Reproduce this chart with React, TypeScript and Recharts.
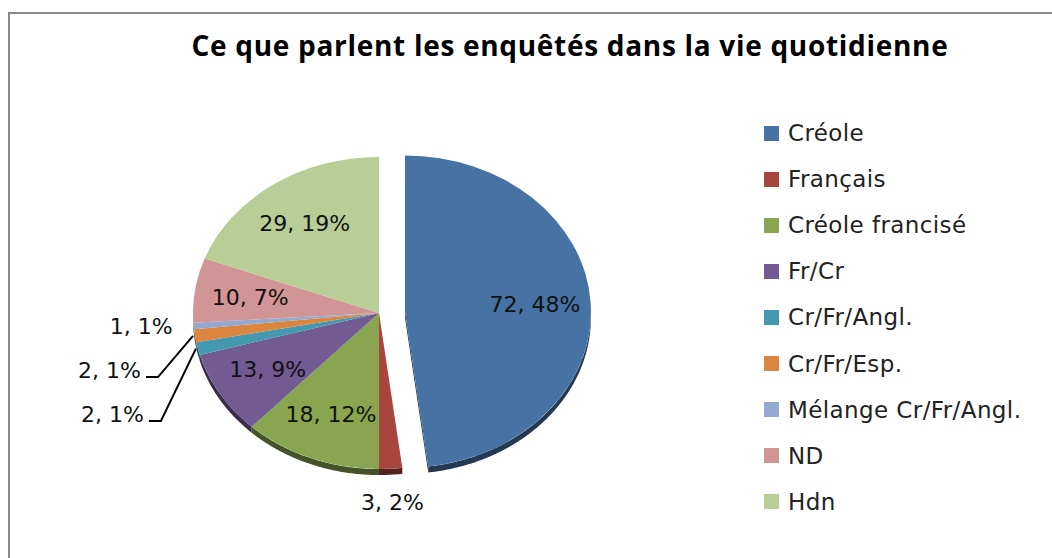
import React from 'react';
import { PieChart, Pie, Cell, Legend } from 'recharts';

// ---- data ----
const categories = [
  'Créole',
  'Français',
  'Créole francisé',
  'Fr/Cr',
  'Cr/Fr/Angl.',
  'Cr/Fr/Esp.',
  'Mélange Cr/Fr/Angl.',
  'ND',
  'Hdn',
];
const counts = [72, 3, 18, 13, 2, 2, 1, 10, 29];
const colors = ['#4672A4', '#A8453F', '#89A54F', '#725A92', '#4299B0', '#DC853E', '#94A9D0', '#D29595', '#B9CD97'];
const explodedCategory = 'Créole';
const title = 'Ce que parlent les enquêtés dans la vie quotidienne';

const data = categories.map((name, i) => ({ name, value: counts[i] }));

// ---- geometry / style ----
const W = 1052;
const H = 558;
const CX = 379;
const CY = 313;
const RX = 186;
const KY = 0.839;
const DEPTH = 6;
const EXPLODE = 26;
const RAD = Math.PI / 180;
const FONT = '"DejaVu Sans", sans-serif';

function darken(hex: string, f: number) {
  const n = parseInt(hex.slice(1), 16);
  const r = Math.round(((n >> 16) & 255) * f);
  const g = Math.round(((n >> 8) & 255) * f);
  const b = Math.round((n & 255) * f);
  return `rgb(${r},${g},${b})`;
}

function ept(cx: number, cy: number, a: number, r: number = RX): [number, number] {
  return [cx + r * Math.cos(a * RAD), cy - r * KY * Math.sin(a * RAD)];
}

function offsetFor(name: string, mid: number): [number, number] {
  if (name !== explodedCategory) return [0, 0];
  return [EXPLODE * Math.cos(mid * RAD), -EXPLODE * KY * Math.sin(mid * RAD)];
}

function arcSamples(cx: number, cy: number, a0: number, a1: number) {
  const n = Math.max(2, Math.ceil(Math.abs(a0 - a1) / 0.5));
  const out: { a: number; p: [number, number] }[] = [];
  for (let i = 0; i <= n; i++) {
    const a = a0 + ((a1 - a0) * i) / n;
    out.push({ a, p: ept(cx, cy, a) });
  }
  return out;
}

const SideShape = (props: any) => {
  const { cx, cy, startAngle, endAngle, fill, payload } = props;
  const mid = (startAngle + endAngle) / 2;
  const [ox, oy] = offsetFor(payload.name, mid);
  const x0 = cx + ox;
  const y0 = cy + oy;
  const side = darken(fill, 0.5);
  const samples = arcSamples(x0, y0, startAngle, endAngle);
  const groups: [number, number][][] = [];
  let cur: [number, number][] = [];
  samples.forEach((s) => {
    if (Math.sin(s.a * RAD) <= 0.0001) {
      cur.push(s.p);
    } else if (cur.length) {
      groups.push(cur);
      cur = [];
    }
  });
  if (cur.length) groups.push(cur);
  const polys = groups
    .filter((g) => g.length > 1)
    .map((g) => {
      const top = g.map((p) => `${p[0]},${p[1]}`);
      const bot = g
        .slice()
        .reverse()
        .map((p) => `${p[0]},${p[1] + DEPTH}`);
      return top.concat(bot).join(' ');
    });
  const faces: string[] = [];
  if (payload.name === explodedCategory) {
    [startAngle, endAngle].forEach((a) => {
      const p = ept(x0, y0, a);
      faces.push(`${x0},${y0} ${p[0]},${p[1]} ${p[0]},${p[1] + DEPTH} ${x0},${y0 + DEPTH}`);
    });
  }
  return (
    <g>
      {faces.map((f, i) => (
        <polygon key={'f' + i} points={f} fill={side} />
      ))}
      {polys.map((pp, i) => (
        <polygon key={i} points={pp} fill={side} />
      ))}
    </g>
  );
};

const TopShape = (props: any) => {
  const { cx, cy, startAngle, endAngle, fill, payload } = props;
  const mid = (startAngle + endAngle) / 2;
  const [ox, oy] = offsetFor(payload.name, mid);
  const x0 = cx + ox;
  const y0 = cy + oy;
  const p0 = ept(x0, y0, startAngle);
  const p1 = ept(x0, y0, endAngle);
  const large = Math.abs(startAngle - endAngle) > 180 ? 1 : 0;
  const sweep = startAngle > endAngle ? 1 : 0;
  const d = `M${x0},${y0} L${p0[0]},${p0[1]} A${RX},${RX * KY} 0 ${large} ${sweep} ${p1[0]},${p1[1]} Z`;
  return <path d={d} fill={fill} stroke="none" />;
};

// label layout derived from the data
const total = counts.reduce((s, v) => s + v, 0);
const mids: number[] = [];
{
  let a = 90;
  counts.forEach((v) => {
    const sw = (360 * v) / total;
    mids.push(a - sw / 2);
    a -= sw;
  });
}
const SMALL = 0.05;
type LL = { x: number; y: number; anchor: string; leader?: [number, number][] };
const layout: LL[] = [];
{
  const leftSmall: { i: number; ey: number; ex: number }[] = [];
  counts.forEach((v, i) => {
    const pct = v / total;
    const mid = mids[i];
    const [ox, oy] = offsetFor(categories[i], mid);
    if (pct >= SMALL) {
      const [x, y] = ept(CX + ox, CY + oy, mid, RX * 0.7);
      layout[i] = { x, y, anchor: 'middle' };
    } else if (Math.cos(mid * RAD) < -0.5) {
      const [ex, ey] = ept(CX, CY, mid);
      leftSmall.push({ i, ey, ex });
    } else {
      const [ex, ey] = ept(CX + ox, CY + oy, mid);
      const ux = Math.cos(mid * RAD);
      const uy = -Math.sin(mid * RAD);
      layout[i] = { x: ex + ux * 30, y: ey + uy * 34, anchor: 'middle' };
    }
  });
  leftSmall.sort((a, b) => a.ey - b.ey);
  let prev = -1e9;
  leftSmall.forEach((s) => {
    const y = Math.max(s.ey, prev + 44);
    prev = y;
    if (y - s.ey > 10) {
      const xEnd = s.ex - 54;
      layout[s.i] = {
        x: xEnd,
        y,
        anchor: 'end',
        leader: [
          [xEnd + 5, y + 7],
          [xEnd + 17, y + 7],
          [s.ex - 2, s.ey],
        ],
      };
    } else {
      layout[s.i] = { x: s.ex - 21, y, anchor: 'end' };
    }
  });
}

const renderLabel = (props: any) => {
  const { index, value, percent } = props;
  const l = layout[index];
  const txt = `${value}, ${Math.round(percent * 100)}%`;
  return (
    <g key={'lbl' + index}>
      {l.leader && (
        <polyline
          points={l.leader.map((p) => `${p[0]},${p[1]}`).join(' ')}
          fill="none"
          stroke="#000"
          strokeWidth={2}
        />
      )}
      <text
        x={l.x}
        y={l.y}
        textAnchor={l.anchor as any}
        dominantBaseline="central"
        fontFamily={FONT}
        fontSize={22}
        fill="#111"
      >
        {txt}
      </text>
    </g>
  );
};

const LegendContent = () => (
  <div style={{ fontFamily: FONT, fontSize: 23, letterSpacing: 0.4, color: '#222' }}>
    {categories.map((c, i) => (
      <div key={c} style={{ height: 46.1, display: 'flex', alignItems: 'center' }}>
        <span style={{ display: 'inline-block', width: 15, height: 15, background: colors[i], marginRight: 9 }} />
        <span style={{ whiteSpace: 'nowrap' }}>{c}</span>
      </div>
    ))}
  </div>
);

export default function App() {
  return (
    <div style={{ position: 'absolute', left: 0, top: 0, width: W, height: H, background: '#fff', overflow: 'hidden' }}>
      <div
        style={{
          position: 'absolute',
          left: 8,
          top: 12,
          width: W,
          height: H,
          borderTop: '2px solid #8a8a8a',
          borderLeft: '2px solid #8a8a8a',
        }}
      />
      <div
        style={{
          position: 'absolute',
          left: 0,
          top: 26,
          width: 1140,
          textAlign: 'center',
          fontFamily: '"Open Sans", sans-serif',
          fontWeight: 700,
          fontSize: 28,
          letterSpacing: 0.7,
          lineHeight: '38px',
          color: '#000',
        }}
      >
        {title}
      </div>
      <div style={{ position: 'absolute', left: 0, top: 0 }}>
        <PieChart width={W} height={H} margin={{ top: 0, right: 0, bottom: 0, left: 0 }}>
          <Pie
            data={data}
            dataKey="value"
            nameKey="name"
            cx={CX}
            cy={CY}
            outerRadius={RX}
            startAngle={90}
            endAngle={-270}
            isAnimationActive={false}
            legendType="none"
            shape={SideShape}
            stroke="none"
          >
            {data.map((d, i) => (
              <Cell key={d.name} fill={colors[i]} />
            ))}
          </Pie>
          <Pie
            data={data}
            dataKey="value"
            nameKey="name"
            cx={CX}
            cy={CY}
            outerRadius={RX}
            startAngle={90}
            endAngle={-270}
            isAnimationActive={false}
            shape={TopShape}
            stroke="none"
            label={renderLabel}
            labelLine={false}
          >
            {data.map((d, i) => (
              <Cell key={d.name} fill={colors[i]} />
            ))}
          </Pie>
          <Legend
            content={LegendContent}
            wrapperStyle={{ position: 'absolute', left: 764, top: 110, width: 285 }}
          />
        </PieChart>
      </div>
    </div>
  );
}
